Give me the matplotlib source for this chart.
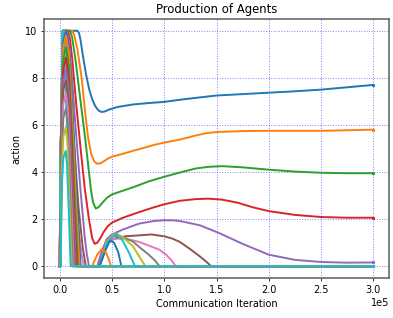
import matplotlib
matplotlib.use("Agg")
import matplotlib.pyplot as plt

# x values are in units of 1e5 communication iterations
X_UNIT = 1e5

title = "Production of Agents"
xlabel = "Communication Iteration"
ylabel = "action"
xticks = [0.0, 0.5, 1.0, 1.5, 2.0, 2.5, 3.0]
yticks = [0, 2, 4, 6, 8, 10]

# ---- agents 1-10 ----
a1_x = [0, 0.01, 0.03, 0.17, 0.185, 0.2, 0.22, 0.25, 0.28, 0.31, 0.34, 0.37, 0.40, 0.43, 0.47, 0.55, 0.7, 0.85, 1.0, 1.15, 1.3, 1.5, 1.75, 2.0, 2.25, 2.5, 2.75, 3.0]
a1_y = [0, 5.0, 10, 10, 9.9, 9.6, 9.0, 8.2, 7.55, 7.1, 6.8, 6.62, 6.55, 6.57, 6.65, 6.76, 6.87, 6.93, 6.98, 7.07, 7.15, 7.25, 7.31, 7.37, 7.43, 7.5, 7.6, 7.7]

a2_x = [0, 0.01, 0.03, 0.12, 0.14, 0.17, 0.21, 0.24, 0.27, 0.30, 0.33, 0.36, 0.39, 0.42, 0.46, 0.5, 0.6, 0.7, 0.8, 0.9, 1.0, 1.15, 1.3, 1.4, 1.5, 1.75, 2.0, 2.5, 3.0]
a2_y = [0, 5.0, 10, 10, 9.8, 9.2, 8.0, 6.7, 5.5, 4.8, 4.45, 4.35, 4.37, 4.45, 4.57, 4.65, 4.77, 4.9, 5.02, 5.15, 5.25, 5.38, 5.55, 5.65, 5.7, 5.74, 5.75, 5.75, 5.8]

a3_x = [0, 0.01, 0.03, 0.10, 0.12, 0.15, 0.20, 0.25, 0.28, 0.30, 0.32, 0.345, 0.37, 0.40, 0.45, 0.5, 0.6, 0.7, 0.85, 1.0, 1.15, 1.3, 1.42, 1.55, 1.75, 2.0, 2.25, 2.5, 2.75, 3.0]
a3_y = [0, 5.0, 10, 10, 9.7, 8.8, 7.0, 5.2, 4.0, 3.2, 2.7, 2.45, 2.5, 2.65, 2.9, 3.05, 3.2, 3.35, 3.6, 3.8, 3.98, 4.15, 4.22, 4.25, 4.2, 4.1, 4.02, 3.97, 3.95, 3.95]

a4_x = [0, 0.01, 0.03, 0.08, 0.10, 0.12, 0.16, 0.20, 0.24, 0.28, 0.31, 0.335, 0.36, 0.39, 0.42, 0.46, 0.5, 0.6, 0.76, 0.9, 1.0, 1.15, 1.3, 1.42, 1.55, 1.7, 1.85, 2.0, 2.25, 2.5, 2.75, 3.0]
a4_y = [0, 5.0, 10, 10, 9.6, 8.8, 6.8, 5.0, 3.3, 2.0, 1.2, 0.95, 1.0, 1.2, 1.45, 1.7, 1.85, 2.05, 2.3, 2.5, 2.63, 2.78, 2.85, 2.87, 2.83, 2.7, 2.5, 2.34, 2.18, 2.09, 2.06, 2.06]

a5_x = [0, 0.01, 0.03, 0.07, 0.09, 0.11, 0.15, 0.20, 0.24, 0.26, 0.28, 0.36, 0.40, 0.45, 0.5, 0.6, 0.76, 0.9, 1.0, 1.08, 1.15, 1.34, 1.53, 1.75, 2.0, 2.25, 2.5, 2.75, 3.0]
a5_y = [0, 5.0, 10, 10, 9.4, 8.5, 6.0, 3.2, 1.2, 0.5, 0, 0, 0.6, 1.15, 1.35, 1.55, 1.81, 1.92, 1.95, 1.95, 1.92, 1.74, 1.4, 0.95, 0.49, 0.27, 0.18, 0.15, 0.16]

a6_x = [0, 0.01, 0.03, 0.06, 0.10, 0.14, 0.18, 0.22, 0.25, 0.38, 0.42, 0.47, 0.55, 0.65, 0.76, 0.88, 1.0, 1.08, 1.15, 1.25, 1.34, 1.40, 1.45, 3.0]
a6_y = [0, 5.0, 10, 10, 8.0, 5.0, 2.5, 0.8, 0, 0, 0.6, 1.05, 1.22, 1.28, 1.31, 1.35, 1.27, 1.17, 1.03, 0.72, 0.42, 0.2, 0, 0]

a7_x = [0, 0.01, 0.03, 0.05, 0.09, 0.13, 0.17, 0.21, 0.23, 0.38, 0.41, 0.45, 0.5, 0.6, 0.7, 0.76, 0.85, 0.955, 1.02, 1.07, 1.11, 3.0]
a7_y = [0, 5.0, 10, 10, 7.5, 4.5, 2.0, 0.5, 0, 0, 0.45, 0.95, 1.15, 1.18, 1.1, 1.03, 0.88, 0.7, 0.48, 0.25, 0, 0]

a8_x = [0, 0.01, 0.03, 0.045, 0.08, 0.12, 0.16, 0.20, 0.38, 0.41, 0.45, 0.52, 0.6, 0.7, 0.76, 0.85, 0.91, 0.955, 3.0]
a8_y = [0, 5.0, 10, 10, 7.0, 3.5, 1.2, 0, 0, 0.4, 1.0, 1.3, 1.25, 1.05, 0.82, 0.5, 0.25, 0, 0]

a9_x = [0, 0.01, 0.03, 0.04, 0.07, 0.10, 0.14, 0.18, 0.38, 0.41, 0.45, 0.53, 0.6, 0.7, 0.76, 0.82, 3.0]
a9_y = [0, 5.0, 10, 10, 7.0, 4.0, 1.5, 0, 0, 0.35, 1.05, 1.4, 1.25, 0.85, 0.42, 0, 0]

a10_x = [0, 0.01, 0.03, 0.035, 0.06, 0.09, 0.13, 0.16, 0.38, 0.41, 0.46, 0.54, 0.6, 0.66, 0.72, 3.0]
a10_y = [0, 5.0, 10, 10, 7.0, 4.0, 1.3, 0, 0, 0.35, 1.05, 1.38, 1.1, 0.6, 0, 0]

# ---- agents 11-20 ----
a11_x = [0, 0.007, 0.02, 0.035, 0.06, 0.09, 0.13, 0.17, 0.20, 0.38, 0.44, 0.48, 0.52, 0.56, 0.59, 3.0]
a11_y = [0, 0, 6.8, 9.5, 10, 9.2, 6.0, 2.5, 0, 0, 0.7, 1.08, 1.0, 0.6, 0, 0]

a12_x = [0, 0.007, 0.02, 0.035, 0.06, 0.09, 0.125, 0.16, 0.19, 0.31, 0.36, 0.40, 0.44, 0.47, 0.49, 3.0]
a12_y = [0, 0, 6.6, 9.3, 9.8, 9.0, 5.8, 2.4, 0, 0, 0.5, 0.72, 0.6, 0.3, 0, 0]

a13_x = [0, 0.007, 0.02, 0.035, 0.06, 0.088, 0.12, 0.15, 0.175, 3.0]
a13_y = [0, 0, 6.3, 8.8, 9.3, 8.5, 5.4, 2.2, 0, 0]

a14_x = [0, 0.007, 0.02, 0.035, 0.06, 0.086, 0.115, 0.142, 0.165, 3.0]
a14_y = [0, 0, 6.0, 8.4, 8.85, 8.0, 5.1, 2.1, 0, 0]

a15_x = [0, 0.007, 0.02, 0.035, 0.06, 0.084, 0.11, 0.135, 0.155, 3.0]
a15_y = [0, 0, 5.7, 7.9, 8.35, 7.6, 4.8, 2.0, 0, 0]

a16_x = [0, 0.007, 0.02, 0.035, 0.06, 0.082, 0.105, 0.127, 0.145, 3.0]
a16_y = [0, 0, 5.4, 7.5, 7.9, 7.1, 4.5, 1.9, 0, 0]

a17_x = [0, 0.007, 0.02, 0.035, 0.06, 0.08, 0.10, 0.12, 0.135, 3.0]
a17_y = [0, 0, 5.0, 6.9, 7.35, 6.6, 4.2, 1.8, 0, 0]

a18_x = [0, 0.008, 0.02, 0.035, 0.06, 0.078, 0.095, 0.112, 0.125, 3.0]
a18_y = [0, 0, 4.6, 6.3, 6.7, 6.0, 3.8, 1.6, 0, 0]

a19_x = [0, 0.009, 0.02, 0.035, 0.058, 0.075, 0.09, 0.104, 0.115, 3.0]
a19_y = [0, 0, 4.0, 5.5, 5.9, 5.2, 3.3, 1.4, 0, 0]

a20_x = [0, 0.01, 0.02, 0.035, 0.057, 0.07, 0.085, 0.097, 0.105, 3.0]
a20_y = [0, 0, 3.4, 4.6, 4.9, 4.3, 2.6, 1.0, 0, 0]

agents_x = [a1_x, a2_x, a3_x, a4_x, a5_x, a6_x, a7_x, a8_x, a9_x, a10_x,
            a11_x, a12_x, a13_x, a14_x, a15_x, a16_x, a17_x, a18_x, a19_x, a20_x]
agents_y = [a1_y, a2_y, a3_y, a4_y, a5_y, a6_y, a7_y, a8_y, a9_y, a10_y,
            a11_y, a12_y, a13_y, a14_y, a15_y, a16_y, a17_y, a18_y, a19_y, a20_y]

DPI = 70
fig = plt.figure(figsize=(393 / DPI, 318 / DPI), dpi=DPI)
ax = fig.add_axes([44 / 393, 1 - 278 / 318, (389 - 44) / 393, (278 - 19) / 318])

colors = plt.rcParams['axes.prop_cycle'].by_key()['color']
for i, (xs, ys) in enumerate(zip(agents_x, agents_y)):
    ax.plot([v * X_UNIT for v in xs], ys, color=colors[i % 10], lw=2.0,
            marker='s', markersize=2.5, markevery=[len(xs) - 1],
            solid_joinstyle='round')

ax.set_xticks([t * X_UNIT for t in xticks])
ax.set_yticks(yticks)
ax.ticklabel_format(axis='x', style='sci', scilimits=(0, 0))
ax.grid(True, color='blue', linestyle=':', linewidth=1.0, alpha=0.5)
ax.set_title(title)
ax.set_xlabel(xlabel)
ax.set_ylabel(ylabel)
for s in ax.spines.values():
    s.set_color('#606060')
    s.set_linewidth(1.6)

fig.savefig("out.png", dpi=DPI)
